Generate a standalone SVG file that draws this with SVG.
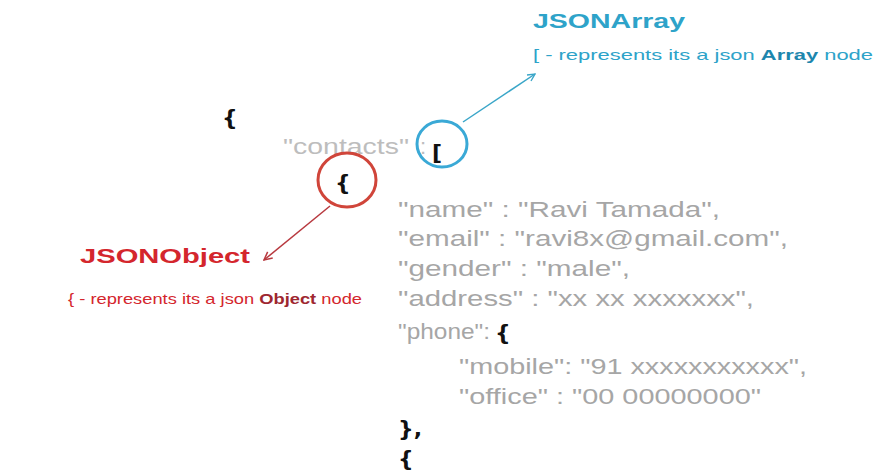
<svg xmlns="http://www.w3.org/2000/svg" width="879" height="472" viewBox="0 0 879 472">
<defs>
<style>
.code{font-family:"Liberation Sans",Arial,sans-serif;font-size:22px;fill:#a6a6a6}
.faint{fill:#bdbdbd}
.brace{font-family:"DejaVu Sans",sans-serif;font-weight:bold;font-size:22px;fill:#111}
.blue{fill:#2ea3c9;font-family:"Liberation Sans",Arial,sans-serif}
.red{fill:#d4262d;font-family:"Liberation Sans",Arial,sans-serif}
.title{font-size:21px;font-weight:bold}
.sub{font-size:14.5px}
</style>
<marker id="ab" viewBox="0 0 10 10" refX="9" refY="5" markerWidth="9" markerHeight="9" orient="auto" markerUnits="userSpaceOnUse">
<path d="M1,1 L9,5 L1,9" fill="none" stroke="#3aa6c8" stroke-width="1.5"/>
</marker>
<marker id="ar" viewBox="0 0 10 10" refX="9" refY="5" markerWidth="10" markerHeight="10" orient="auto" markerUnits="userSpaceOnUse">
<path d="M1,1 L9,5 L1,9" fill="none" stroke="#b8393f" stroke-width="1.5"/>
</marker>
</defs>
<rect width="879" height="472" fill="#fff"/>

<g id="code">
<text class="brace" x="222" y="125">{</text>
<text class="code faint" x="283" y="154" textLength="126" lengthAdjust="spacingAndGlyphs">"contacts"</text>
<text class="code faint" x="420" y="154">:</text>
<text class="brace" x="432" y="160">[</text>
<text class="brace" x="335" y="190">{</text>
<text class="code" x="398" y="217" textLength="322" lengthAdjust="spacingAndGlyphs">"name" : "Ravi Tamada",</text>
<text class="code" x="398" y="246" textLength="390" lengthAdjust="spacingAndGlyphs">"email" : "ravi8x@gmail.com",</text>
<text class="code" x="398" y="276" textLength="232" lengthAdjust="spacingAndGlyphs">"gender" : "male",</text>
<text class="code" x="398" y="306" textLength="356" lengthAdjust="spacingAndGlyphs">"address" : "xx xx xxxxxxx",</text>
<text class="code" x="398" y="339" textLength="92" lengthAdjust="spacingAndGlyphs">"phone":</text>
<text class="brace" x="495" y="340">{</text>
<text class="code" x="459" y="374" textLength="348" lengthAdjust="spacingAndGlyphs">"mobile": "91 xxxxxxxxxxx",</text>
<text class="code" x="459" y="404" textLength="302" lengthAdjust="spacingAndGlyphs">"office" : "00 00000000"</text>
<text class="brace" x="398" y="436">},</text>
<text class="brace" x="398" y="466">{</text>
</g>

<g id="jsonarray">
<ellipse cx="442" cy="144" rx="25" ry="23" fill="none" stroke="#3aa9d6" stroke-width="3"/>
<text class="blue title" x="533" y="28" textLength="152" lengthAdjust="spacingAndGlyphs">JSONArray</text>
<text class="blue sub" x="533" y="60" textLength="340" lengthAdjust="spacingAndGlyphs">[ - represents its a json <tspan font-weight="bold" fill="#1d86ad">Array</tspan> node</text>
</g>

<g id="jsonobject">
<ellipse cx="347" cy="180" rx="29" ry="27" fill="none" stroke="#d0453a" stroke-width="3"/>
<text class="red title" x="80" y="263" textLength="170" lengthAdjust="spacingAndGlyphs">JSONObject</text>
<text class="red sub" x="68" y="304" textLength="294" lengthAdjust="spacingAndGlyphs">{ - represents its a json <tspan font-weight="bold" fill="#9e2730">Object</tspan> node</text>
</g>

<g id="connectors">
<line x1="463" y1="122" x2="535" y2="74" stroke="#3aa6c8" stroke-width="1.5" marker-end="url(#ab)"/>
<line x1="330" y1="206" x2="264" y2="260" stroke="#b8393f" stroke-width="1.5" marker-end="url(#ar)"/>
</g>
</svg>
